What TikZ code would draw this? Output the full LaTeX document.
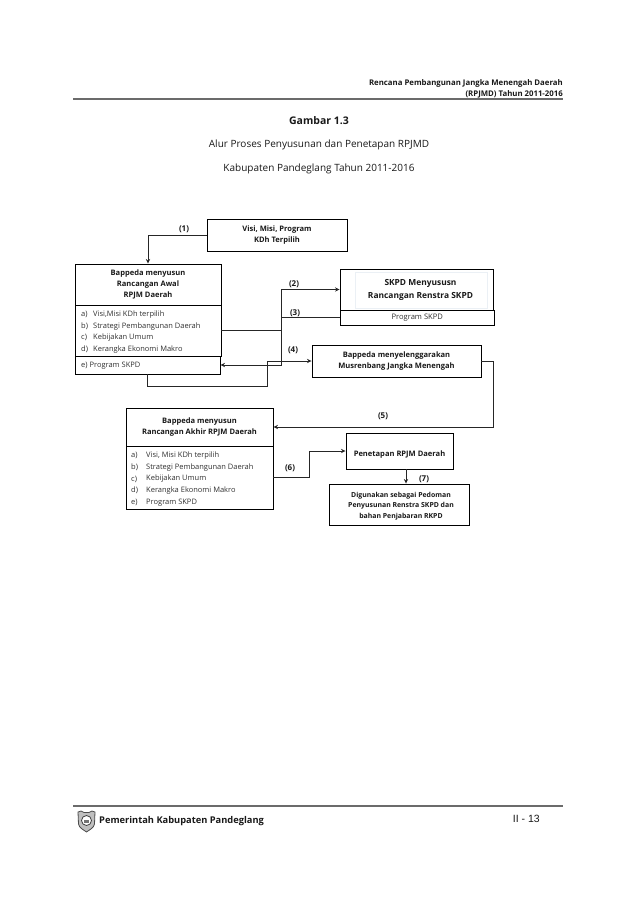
\documentclass[tikz,border=0pt]{standalone}
\usepackage{fontspec}
\setmainfont{Open Sans}
\newfontfamily\pagefont{Liberation Sans}
\usetikzlibrary{arrows.meta}
\definecolor{ink}{gray}{0.1}
\definecolor{rulec}{gray}{0.42}
\definecolor{faint}{rgb}{0.92,0.94,0.96}
\tikzset{
  x=1pt,y=-1pt,
  box/.style={draw=black,line width=0.95pt,fill=white,inner sep=0pt,align=center,text=ink,font=\fontsize{7.55}{11.6}\selectfont\bfseries},
  lowered/.style={execute at begin node={\rule{0pt}{#1}}},
  listtext/.style={inner sep=0pt,align=left,anchor=west,text=ink!90,font=\fontsize{7.5}{11.8}\selectfont},
  link/.style={draw=black!85,line width=1pt},
  arrowed/.style={link,-{Stealth[length=4.5pt,width=4.2pt]}},
  steplabel/.style={inner sep=0pt,text=ink,font=\fontsize{8}{10}\selectfont\bfseries},
  headtext/.style={inner sep=0pt,text=ink,align=right,anchor=north east,font=\fontsize{7.8}{11}\selectfont\bfseries},
  titletext/.style={inner sep=0pt,text=ink,font=\fontsize{10}{12}\selectfont},
  pagerule/.style={draw=rulec,line width=1.2pt}
}
\begin{document}
\begin{tikzpicture}
\useasboundingbox (0,0) rectangle (638,903);
\fill[white] (0,0) rectangle (638,903);
% page header
\node[headtext] (hdr) at (563,76) {\rule{0pt}{9.5pt}Rencana Pembangunan Jangka Menengah Daerah\\(RPJMD) Tahun 2011-2016};
\coordinate (ruleTL) at (73,99);
\coordinate (ruleTR) at (563,99);
\draw[pagerule] (ruleTL) -- (ruleTR);
\node[titletext,font=\fontsize{10.5}{12}\selectfont\bfseries] (t1) at (319,121) {Gambar 1.3};
\node[titletext] (t2) at (319,145) {Alur Proses Penyusunan dan Penetapan RPJMD};
\node[titletext] (t3) at (319,169) {Kabupaten Pandeglang Tahun 2011-2016};
% boxes
\node[box,lowered=13pt,minimum width=140pt,minimum height=32pt] (visi) at (277,235) {Visi, Misi, Program\\KDh Terpilih};
\node[box,lowered=14pt,font=\fontsize{7.55}{11.2}\selectfont\bfseries,minimum width=146pt,minimum height=41pt] (head) at (148,284.5) {Bappeda menyusun\\Rancangan Awal\\RPJM Daerah};
\node[box,minimum width=146pt,minimum height=51pt] (list) at (148,330.5) {};
\node[listtext] (lista) at (81,332) {a)\\b)\\c)\\d)};
\node[listtext] (listb) at (93,332) {Visi,Misi KDh terpilih\\Strategi Pembangunan Daerah\\Kebijakan Umum\\Kerangka Ekonomi Makro};
\node[box,minimum width=145pt,minimum height=18pt] (eprog) at (147.5,365) {};
\node[listtext] (etext) at (81,366) {e) Program SKPD};
\node[box,minimum width=153pt,minimum height=41pt] (skpd) at (416.5,289.5) {};
\draw[faint,line width=0.5pt] (355,272) rectangle (487,308);
\node[inner sep=0pt,align=center,font=\fontsize{8.4}{12.5}\selectfont\bfseries,text=ink] (skpdtext) at (420.5,290) {SKPD Menyususn\\Rancangan Renstra SKPD};
\node[box,minimum width=154.5pt,minimum height=15pt,font=\fontsize{7.6}{10}\selectfont,text=ink!90] (prog) at (417.25,317.5) {Program SKPD};
\node[box,lowered=14pt,minimum width=169pt,minimum height=32pt] (musren) at (396.5,361) {Bappeda menyelenggarakan\\Musrenbang Jangka Menengah};
\node[box,lowered=14pt,minimum width=147pt,minimum height=38pt] (ahead) at (199.5,427) {Bappeda menyusun\\Rancangan Akhir RPJM Daerah};
\node[box,minimum width=147pt,minimum height=63pt] (alist) at (199.5,477.5) {};
\node[listtext] (alista) at (131,479) {a)\\b)\\c)\\d)\\e)};
\node[listtext] (alistb) at (146,479) {Visi, Misi KDh terpilih\\Strategi Pembangunan Daerah\\Kebijakan Umum\\Kerangka Ekonomi Makro\\Program SKPD};
\node[box,lowered=12pt,minimum width=107pt,minimum height=36pt] (pen) at (399.5,451) {Penetapan RPJM Daerah};
\node[box,minimum width=140pt,minimum height=41pt] (dig) at (399,504.5) {};
\node[inner sep=0pt,align=center,text=ink,font=\fontsize{6.9}{10.6}\selectfont\bfseries] (digtext) at (401,506) {Digunakan sebagai Pedoman\\Penyusunan Renstra SKPD dan\\bahan Penjabaran RKPD};
% connector routing columns
\coordinate (colA) at (281,300);
\coordinate (colB) at (267,375);
\coordinate (rowB) at (200,386);
\coordinate (colC) at (493,395);
\coordinate (colD) at (309,465);
% connectors
\draw[arrowed] (visi.west) -| (head.north);
\draw[arrowed] (list.east) -- (list.east -| colA) -- (colA |- skpd.west) -- (skpd.west);
\draw[arrowed] (prog.west) -- (prog.west -| colA) -- (colA |- eprog.east) -- (eprog.east);
\draw[arrowed] (eprog.south) -- (eprog.south |- rowB) -- (colB |- rowB) -- (colB |- musren.west) -- (musren.west);
\draw[arrowed] (musren.east) -- (musren.east -| colC) -- (colC |- ahead.east) -- (ahead.east);
\draw[arrowed] (alist.east) -- (alist.east -| colD) -- (colD |- pen.west) -- (pen.west);
\draw[arrowed] ([xshift=6.5pt]pen.south) -- ([xshift=6.5pt]pen.south |- dig.north);
% connector labels
\node[steplabel] (l1) at (184,229) {(1)};
\node[steplabel] (l2) at (294,284) {(2)};
\node[steplabel] (l3) at (295,313) {(3)};
\node[steplabel] (l4) at (293,350) {(4)};
\node[steplabel] (l5) at (383,416) {(5)};
\node[steplabel] (l6) at (290,468) {(6)};
\node[steplabel] (l7) at (424,479) {(7)};
% footer
\coordinate (ruleBL) at (73,806);
\coordinate (ruleBR) at (563,806);
\draw[pagerule] (ruleBL) -- (ruleBR);
\draw[draw=black!70,fill=black!25,line width=0.8pt] (78,812) -- (81,811) -- (84,812.5) -- (89,812.5) -- (92,811) -- (95,812) -- (94.5,824) .. controls (94,828) and (89,830) .. (86.5,832) .. controls (84,830) and (79,828) .. (78.5,824) -- cycle;
\draw[draw=black!75,fill=white,line width=0.8pt] (86.5,820.5) circle (5);
\fill[black!55] (83.8,819.5) rectangle (89.2,823);
\node[inner sep=0pt,anchor=west,text=ink,font=\fontsize{9.3}{10}\selectfont\bfseries] (foot) at (99,821.5) {Pemerintah Kabupaten Pandeglang};
\node[inner sep=0pt,anchor=east,text=ink,font=\fontsize{10.5}{10}\selectfont\pagefont] (pg) at (540,819) {II - 13};
\end{tikzpicture}
\end{document}
